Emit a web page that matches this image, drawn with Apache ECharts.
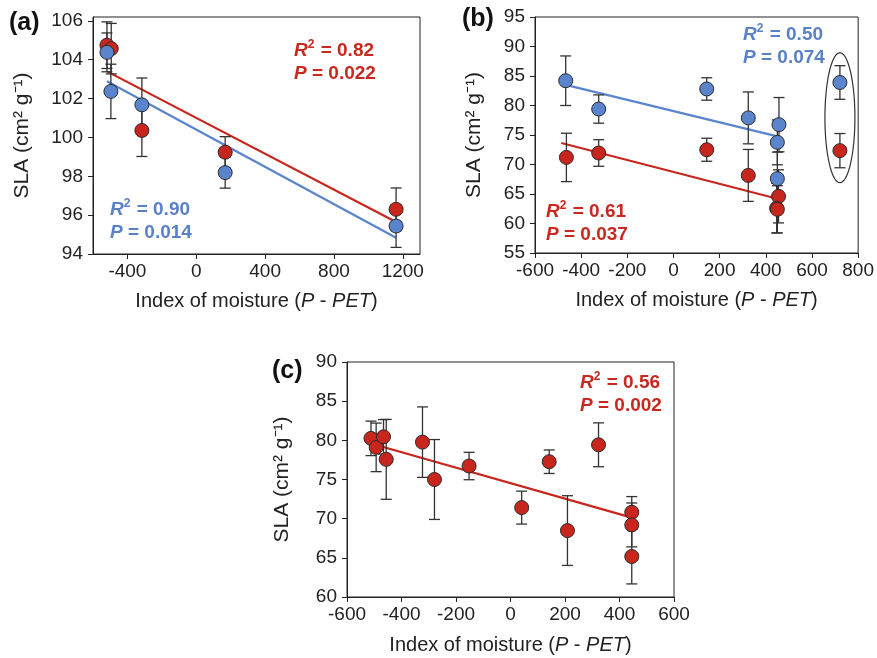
<!DOCTYPE html>
<html>
<head>
<meta charset="utf-8">
<script src="https://cdn.jsdelivr.net/npm/echarts@6/dist/echarts.min.js"></script>
<style>
  html, body { margin: 0; padding: 0; background: #fff; }
  #chart { width: 877px; height: 658px; }
</style>
</head>
<body>
<div id="chart"></div>
<script>
// panel (a)
const aRedX = [-519, -494, -316, 168, 1161]
const aRedY = [104.75, 104.57, 100.36, 99.24, 96.3]
const aRedErr = [1.2, 1.3, 1.34, 0.8, 1.1]
const aBlueX = [-519, -496, -316, 168, 1161]
const aBlueY = [104.38, 102.37, 101.68, 98.19, 95.44]
const aBlueErr = [1.0, 1.4, 1.38, 0.8, 1.1]
const aRedFit = [[-519, 103.4], [1161, 95.65]]
const aBlueFit = [[-519, 102.89], [1161, 94.84]]
const aXTicks = [-400, 0, 400, 800, 1200]
const aYTicks = [94, 96, 98, 100, 102, 104, 106]

// panel (b)
const bBlueX = [-467, -324, 144, 324, 457, 450, 450, 721]
const bBlueY = [84.2, 79.4, 82.8, 77.9, 76.75, 73.75, 67.6, 83.9]
const bBlueErr = [4.2, 2.4, 1.9, 4.4, 4.6, 3.8, 4.5, 2.85]
const bRedX = [-464, -324, 144, 324, 455, 447, 450, 721]
const bRedY = [71.2, 71.95, 72.5, 68.15, 64.6, 62.6, 62.4, 72.35]
const bRedErr = [4.1, 2.25, 1.95, 4.4, 4.5, 4.2, 4.0, 2.9]
const bBlueFit = [[-467, 83.5], [450, 74.76]]
const bRedFit = [[-486, 73.64], [450, 64.2]]
const bCircled = [[721, 77.93]]

// panel (c)
const cX = [-512, -493, -466, -456, -323, -279, -152, 41, 142, 209, 323, 445, 445, 445]
const cY = [80.25, 79.1, 80.45, 77.57, 79.77, 75.0, 76.72, 71.41, 77.27, 68.48, 79.43, 70.82, 69.2, 65.17]
const cErr = [2.2, 3.1, 2.2, 5.1, 4.5, 5.1, 1.75, 2.1, 1.5, 4.45, 2.8, 2.0, 2.8, 3.5]
const cFit = [[-512, 79.6], [445, 70.14]]

const FONT = '"Liberation Sans", Arial, sans-serif'
const RED = '#c8251c'
const BLUE = '#5a84cc'
const RED_TEXT = '#c8281e'
const BLUE_TEXT = '#5a80c8'
const INK = '#222'

const chart = echarts.init(document.getElementById('chart'))

const xName = '{n|Index of moisture (}{i|P}{n| - }{i|PET}{n|)}'
const yName = 'SLA (cm² g⁻¹)'
const xNameRich = {
  n: { fontFamily: FONT, fontSize: 20, color: INK },
  i: { fontFamily: FONT, fontSize: 20, color: INK, fontStyle: 'italic' }
}
const plain = (v) => String(v)

function xAxis(grid, min, max, opts, gap) {
  return Object.assign({
    type: 'value', gridIndex: grid, min, max,
    name: xName, nameLocation: 'middle', nameGap: gap,
    nameTextStyle: { rich: xNameRich },
    axisLine: { onZero: false, lineStyle: { color: INK, width: 1 } },
    axisTick: { length: 5, lineStyle: { color: INK } },
    axisLabel: { color: INK, fontFamily: FONT, fontSize: 19, margin: 8, formatter: plain },
    splitLine: { show: false }
  }, opts)
}

function yAxis(grid, min, max, opts, gap) {
  return Object.assign({
    type: 'value', gridIndex: grid, min, max,
    name: yName, nameLocation: 'middle', nameGap: gap,
    nameTextStyle: { fontFamily: FONT, fontSize: 21, color: INK },
    axisLine: { onZero: false, lineStyle: { color: INK, width: 1 } },
    axisTick: { length: 5, lineStyle: { color: INK } },
    axisLabel: { color: INK, fontFamily: FONT, fontSize: 19, margin: 10, formatter: plain },
    splitLine: { show: false }
  }, opts)
}

function points(grid, xs, ys, color) {
  return {
    type: 'scatter', xAxisIndex: grid, yAxisIndex: grid, z: 5,
    symbol: 'circle', symbolSize: 14,
    itemStyle: { color, borderColor: '#2b2b2b', borderWidth: 1, opacity: 1 },
    data: xs.map((x, i) => [x, ys[i]])
  }
}

function errorBars(grid, xs, ys, errs) {
  return {
    type: 'custom', xAxisIndex: grid, yAxisIndex: grid, z: 4,
    data: xs.map((x, i) => [x, ys[i] - errs[i], ys[i] + errs[i]]),
    renderItem(params, api) {
      const lo = api.coord([api.value(0), api.value(1)])
      const hi = api.coord([api.value(0), api.value(2)])
      const w = 5.5
      const style = { stroke: '#333', lineWidth: 1.3 }
      return {
        type: 'group',
        children: [
          { type: 'line', shape: { x1: lo[0], y1: lo[1], x2: hi[0], y2: hi[1] }, style },
          { type: 'line', shape: { x1: lo[0] - w, y1: lo[1], x2: lo[0] + w, y2: lo[1] }, style },
          { type: 'line', shape: { x1: hi[0] - w, y1: hi[1], x2: hi[0] + w, y2: hi[1] }, style }
        ]
      }
    }
  }
}

function fit(grid, data, color) {
  return {
    type: 'line', xAxisIndex: grid, yAxisIndex: grid, z: 3,
    data, showSymbol: false, silent: true,
    lineStyle: { color, width: 2.2 }
  }
}

function stats(left, top, r2, p, color) {
  const base = { fontFamily: FONT, fontSize: 19, fontWeight: 'bold', color, lineHeight: 23 }
  return {
    left, top, padding: 0,
    text: `{i|R}{s|2}{b| = ${r2}}\n{i|P}{b| = ${p}}`,
    textStyle: {
      rich: {
        i: Object.assign({}, base, { fontStyle: 'italic' }),
        s: Object.assign({}, base, { fontSize: 12, lineHeight: 23, verticalAlign: 'top', padding: [0, 1, 0, 0] }),
        b: base
      }
    }
  }
}

function panelLabel(left, top, txt) {
  return {
    left, top, padding: 0, text: txt,
    textStyle: { fontFamily: FONT, fontSize: 25, fontWeight: 'bold', color: '#111' }
  }
}

const option = {
  backgroundColor: '#fff',
  animation: false,
  title: [
    panelLabel(9, 11, '(a)'),
    panelLabel(462, 7, '(b)'),
    panelLabel(272, 359, '(c)'),
    stats(294, 39, '0.82', '0.022', RED_TEXT),
    stats(110, 198, '0.90', '0.014', BLUE_TEXT),
    stats(743, 23, '0.50', '0.074', BLUE_TEXT),
    stats(546, 200, '0.61', '0.037', RED_TEXT),
    stats(580, 371, '0.56', '0.002', RED_TEXT)
  ],
  grid: [
    { left: 93, top: 17, width: 327, height: 237, show: true, borderColor: INK, borderWidth: 1 },
    { left: 535, top: 17, width: 327, height: 236, show: true, borderColor: INK, borderWidth: 1 },
    { left: 347, top: 362, width: 327, height: 235, show: true, borderColor: INK, borderWidth: 1 }
  ],
  xAxis: [
    xAxis(0, -600, 1300, {
      axisLabel: { color: INK, fontFamily: FONT, fontSize: 19, margin: 8, formatter: plain, customValues: aXTicks },
      axisTick: { length: 5, lineStyle: { color: INK }, customValues: aXTicks }
    }, 37),
    xAxis(1, -600, 800, { interval: 200 }, 37),
    xAxis(2, -600, 600, { interval: 200 }, 38)
  ],
  yAxis: [
    yAxis(0, 94, 106.2, {
      axisLabel: { color: INK, fontFamily: FONT, fontSize: 19, margin: 10, formatter: plain, customValues: aYTicks },
      axisTick: { length: 5, lineStyle: { color: INK }, customValues: aYTicks }
    }, 60),
    yAxis(1, 55, 95, { interval: 5 }, 50),
    yAxis(2, 60, 90, { interval: 5 }, 54)
  ],
  series: [
    fit(0, aRedFit, RED),
    fit(0, aBlueFit, BLUE),
    errorBars(0, aRedX, aRedY, aRedErr),
    errorBars(0, aBlueX, aBlueY, aBlueErr),
    points(0, aRedX, aRedY, RED),
    points(0, aBlueX, aBlueY, BLUE),

    fit(1, bBlueFit, BLUE),
    fit(1, bRedFit, RED),
    errorBars(1, bBlueX, bBlueY, bBlueErr),
    errorBars(1, bRedX, bRedY, bRedErr),
    points(1, bBlueX, bBlueY, BLUE),
    points(1, bRedX, bRedY, RED),
    {
      // outline round the two circled points
      type: 'custom', xAxisIndex: 1, yAxisIndex: 1, z: 6, data: bCircled,
      renderItem(params, api) {
        const c = api.coord([api.value(0), api.value(1)])
        const pts = []
        for (let k = 0; k < 72; k++) {
          const t = (k / 72) * Math.PI * 2
          pts.push([c[0] + 15 * Math.cos(t), c[1] + 65 * Math.sin(t)])
        }
        return {
          type: 'polygon',
          shape: { points: pts },
          style: { fill: 'none', stroke: '#333', lineWidth: 1.2 }
        }
      }
    },

    fit(2, cFit, RED),
    errorBars(2, cX, cY, cErr),
    points(2, cX, cY, RED)
  ]
}

chart.setOption(option)
</script>
</body>
</html>
